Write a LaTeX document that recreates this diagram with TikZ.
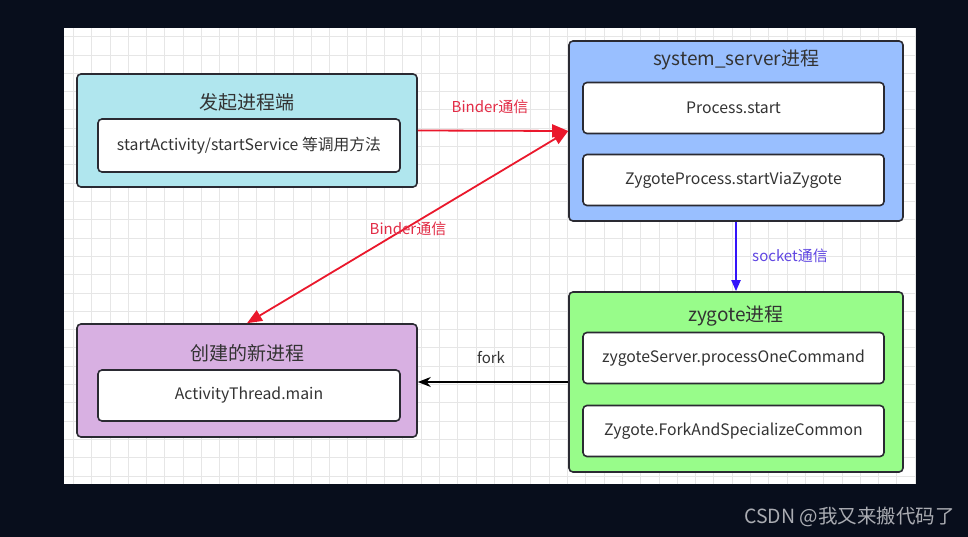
\documentclass[tikz,border=0pt]{standalone}
\usepackage{fontspec}
\setmainfont{Noto Sans CJK SC}
\usetikzlibrary{arrows.meta}

\definecolor{bgdark}{RGB}{8,14,28}
\definecolor{gridgray}{RGB}{230,230,230}
\definecolor{boxline}{RGB}{42,42,50}
\definecolor{txtgray}{RGB}{51,51,51}
\definecolor{callerfill}{RGB}{176,230,238}
\definecolor{serverfill}{RGB}{153,191,255}
\definecolor{zygotefill}{RGB}{152,252,138}
\definecolor{newprocfill}{RGB}{216,176,226}
\definecolor{binderred}{RGB}{234,24,44}
\definecolor{binderlabelred}{RGB}{226,44,70}
\definecolor{socketblue}{RGB}{52,20,250}
\definecolor{socketlabelblue}{RGB}{96,70,226}
\definecolor{markgray}{RGB}{170,172,178}

\begin{document}
\begin{tikzpicture}[x=1pt,y=-1pt,
	outer/.style={draw=boxline,line width=1.6pt,rounded corners=4pt,minimum width=334pt,minimum height=180pt,inner sep=0pt},
	inner/.style={draw=boxline,fill=white,line width=1.6pt,rounded corners=4pt,minimum width=301pt,minimum height=51pt,inner sep=0pt,text=txtgray,font=\fontsize{15.8}{18}\selectfont},
	boxtitle/.style={text=txtgray,font=\fontsize{19}{21}\selectfont,inner sep=0pt},
	linklabel/.style={font=\fontsize{15}{17}\selectfont,inner sep=0pt}]
				\useasboundingbox (0,0) rectangle (968,537);
				\fill[bgdark] (0,0) rectangle (968,537);
				\fill[white] (64,28) rectangle (916,484);
				\draw[gridgray,line width=0.6pt,step=18.3pt] (64,28) grid (916,484);
				
				% process boxes
				\node (caller) at (247,130.5) [outer,fill=callerfill,minimum width=340pt,minimum height=113pt] {};
				\node (callertitle) at (247,102) [boxtitle] {发起进程端};
				\node (callermethod) at (249,145.5) [inner,minimum width=302pt,minimum height=53pt] {startActivity/startService 等调用方法};
				
				\node (server) at (736,131) [outer,fill=serverfill] {};
				\node (servertitle) at (736,60) [boxtitle] {system\_server进程};
				\node (procstart) at (733.5,108) [inner] {Process.start};
				\node (viazygote) at (733.5,180) [inner] {ZygoteProcess.startViaZygote};
				
				\node (zygote) at (736,382) [outer,fill=zygotefill] {};
				\node (zygotetitle) at (736,316) [boxtitle] {zygote进程};
				\node (onecommand) at (733.5,358) [inner] {zygoteServer.processOneCommand};
				\node (forkcommon) at (733.5,431) [inner] {Zygote.ForkAndSpecializeCommon};
				
				\node (newproc) at (247,380.5) [outer,fill=newprocfill,minimum width=340pt,minimum height=113pt] {};
				\node (newproctitle) at (247,353) [boxtitle] {创建的新进程};
				\node (threadmain) at (249,395.5) [inner,minimum width=302pt] {ActivityThread.main};
				
				% connectors
				\draw[binderred,line width=1.8pt,-{Triangle[length=16pt,width=13pt]}] (caller.east) -- (server.west);
				\draw[binderred,line width=1.8pt,{Triangle[length=15pt,width=12pt]}-{Triangle[length=15pt,width=12pt]}] (newproc.north) -- (server.west);
				\draw[socketblue,line width=1.8pt,-{Triangle[length=11pt,width=9pt]}] (server.south) -- (zygote.north);
				\draw[black,line width=1.8pt,-{Stealth[length=13pt,width=10pt]}] (zygote.west) -- (zygote.west -| newproc.east);
				
				\node (binderlabelA) at (490,107) [linklabel,text=binderlabelred] {Binder通信};
				\node (binderlabelB) at (408,229) [linklabel,text=binderlabelred] {Binder通信};
				\node (socketlabel) at (790,256) [linklabel,text=socketlabelblue] {socket通信};
				\node (forklabel) at (491,358) [linklabel,text=txtgray] {fork};
				
				\node (watermark) at (955,517) [anchor=east,inner sep=0pt,text=markgray,font=\fontsize{19.5}{21}\selectfont] {CSDN @我又来搬代码了};
			\end{tikzpicture}
\end{document}
